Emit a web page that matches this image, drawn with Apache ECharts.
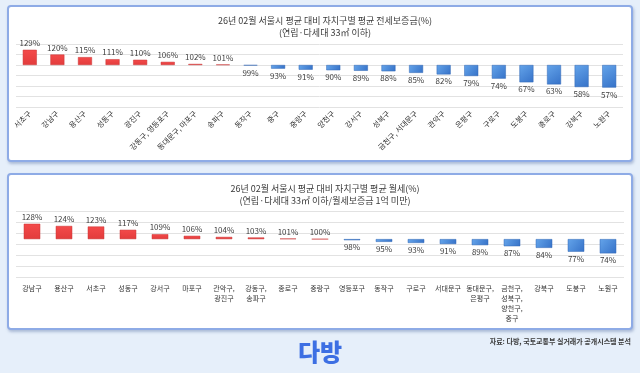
<!DOCTYPE html>
<html>
<head>
<meta charset="utf-8">
<script src="https://cdn.jsdelivr.net/npm/echarts@6/dist/echarts.min.js"></script>
<style>
  html, body { margin: 0; padding: 0; }
  body { width: 640px; height: 373px; background: #E6EFFA; position: relative; overflow: hidden; font-family: 'Noto Sans CJK KR', sans-serif; }
  .panel { position: absolute; left: 7px; width: 622px; height: 153px; background: #fff; border: 2px solid #8EABE6; border-radius: 4px; box-shadow: 1px 2px 3px rgba(60,90,150,0.35); }
  #p1 { top: 5px; }
  #p2 { top: 173px; }
  #chart { position: absolute; left: 0; top: 0; width: 640px; height: 373px; }
</style>
</head>
<body>
<div class="panel" id="p1"></div>
<div class="panel" id="p2"></div>
<div id="chart"></div>
<script>
// ---- data ----
const title1 = '26년 02월 서울시 평균 대비 자치구별 평균 전세보증금(%)';
const subtitle1 = '(연립·다세대 33㎡ 이하)';
const cats1 = ['서초구','강남구','용산구','성동구','광진구','강동구, 영등포구','동대문구, 마포구','송파구','동작구','중구','중랑구','양천구','강서구','성북구','금천구, 서대문구','관악구','은평구','구로구','도봉구','종로구','강북구','노원구'];
const vals1 = [129,120,115,111,110,106,102,101,99,93,91,90,89,88,85,82,79,74,67,63,58,57];

const title2 = '26년 02월 서울시 평균 대비 자치구별 평균 월세(%)';
const subtitle2 = '(연립·다세대 33㎡ 이하/월세보증금 1억 미만)';
const cats2 = ['강남구','용산구','서초구','성동구','강서구','마포구','관악구,\n광진구','강동구,\n송파구','종로구','중랑구','영등포구','동작구','구로구','서대문구','동대문구,\n은평구','금천구,\n성북구,\n양천구,\n중구','강북구','도봉구','노원구'];
const vals2 = [128,124,123,117,109,106,104,103,101,100,98,95,93,91,89,87,84,77,74];

const baseline = 100;
const axis1 = { min: 20, max: 140, interval: 20 };
const axis2 = { min: 30, max: 150 };
const gridTicks2 = [30, 50, 70, 90, 110, 130, 150];

const sourceText = '자료: 다방, 국토교통부 실거래가 공개시스템 분석';
const logoText = '다방';

// ---- styles ----
const FONT = 'Noto Sans CJK KR';
const red = { type: 'linear', x: 0, y: 0, x2: 0, y2: 1, colorStops: [{ offset: 0, color: '#F44A4A' }, { offset: 1, color: '#E23C3C' }] };
const blue = { type: 'linear', x: 0, y: 0, x2: 1, y2: 1, colorStops: [{ offset: 0, color: '#64A4EA' }, { offset: 1, color: '#3672C8' }] };

function barData(vals) {
  return vals.map(v => ({
    value: v - baseline,
    raw: v,
    itemStyle: {
      color: v >= baseline ? red : blue,
      borderColor: v >= baseline ? '#C93434' : '#3166B5',
      borderWidth: 0.5
    },
    label: { position: v >= baseline ? 'top' : 'bottom' }
  }));
}

const chart = echarts.init(document.getElementById('chart'), null, { renderer: 'canvas' });

const valueLabel = {
  show: true,
  fontFamily: FONT,
  fontSize: 8,
  color: '#404040',
  distance: 3,
  formatter: p => p.data.raw + '%'
};

chart.setOption({
  backgroundColor: 'transparent',
  animation: false,
  textStyle: { fontFamily: FONT },
  title: [
    { text: title1 + '\n' + subtitle1, left: 320, top: 10, textAlign: 'center',
      textStyle: { fontFamily: FONT, fontSize: 9, fontWeight: 'normal', color: '#3A3A3A', lineHeight: 12 } },
    { text: title2 + '\n' + subtitle2, left: 320, top: 178, textAlign: 'center',
      textStyle: { fontFamily: FONT, fontSize: 9, fontWeight: 'normal', color: '#3A3A3A', lineHeight: 12 } }
  ],
  grid: [
    { left: 16, right: 17, top: 44, height: 63 },
    { left: 16, right: 16, top: 211.7, height: 65.8 }
  ],
  xAxis: [
    { type: 'category', gridIndex: 0, data: cats1,
      axisLine: { show: false }, axisTick: { show: false },
      axisLabel: { interval: 0, rotate: 45, fontFamily: FONT, fontSize: 7.5, color: '#333', margin: 5 } },
    { type: 'category', gridIndex: 1, data: cats2,
      axisLine: { show: false }, axisTick: { show: false },
      axisLabel: { interval: 0, fontFamily: FONT, fontSize: 7, color: '#333', margin: 6, lineHeight: 10, verticalAlign: 'top' } }
  ],
  yAxis: [
    { type: 'value', gridIndex: 0, min: axis1.min - baseline, max: axis1.max - baseline, interval: axis1.interval,
      axisLabel: { show: false }, axisLine: { show: false }, axisTick: { show: false },
      splitLine: { show: true, lineStyle: { color: '#E2E2E2', width: 1 } } },
    { type: 'value', gridIndex: 1, min: axis2.min - baseline, max: axis2.max - baseline,
      axisLabel: { show: false }, axisLine: { show: false }, axisTick: { show: false },
      splitLine: { show: false } }
  ],
  series: [
    { type: 'bar', xAxisIndex: 0, yAxisIndex: 0, z: 3, barWidth: 14,
      data: barData(vals1), label: valueLabel },
    { type: 'line', xAxisIndex: 1, yAxisIndex: 1, z: 0, silent: true, symbol: 'none',
      data: cats2.map(() => null),
      markLine: { silent: true, z: 0, symbol: 'none', label: { show: false },
        lineStyle: { color: '#E2E2E2', width: 1, type: 'solid' },
        data: gridTicks2.map(t => ({ yAxis: t - baseline })) } },
    { type: 'bar', xAxisIndex: 1, yAxisIndex: 1, z: 3, barWidth: 16.5,
      data: barData(vals2), label: valueLabel }
  ],
  graphic: [
    { type: 'text', right: 9, top: 338,
      style: { text: sourceText, fontFamily: FONT, fontSize: 7, fontWeight: 'bold', fill: '#3A3A3A' } },
    { type: 'text', left: 'center', top: 340,
      style: { text: logoText, fontFamily: FONT, fontSize: 24, fontWeight: 900, fill: '#3D6FE3' } }
  ]
});
</script>
</body>
</html>
